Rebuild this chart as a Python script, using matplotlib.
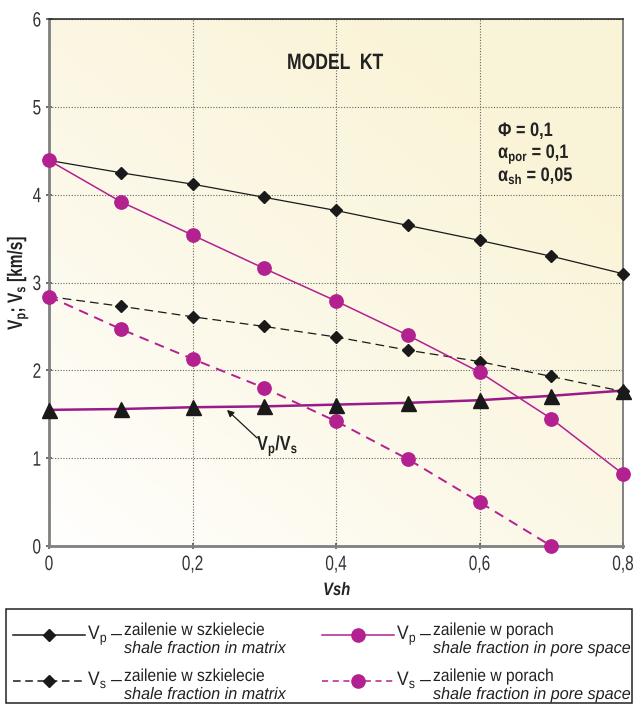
import matplotlib
matplotlib.use("Agg")
import matplotlib.pyplot as plt
from matplotlib.lines import Line2D
from matplotlib.patches import Rectangle
from matplotlib.patheffects import AbstractPathEffect
from matplotlib.transforms import Affine2D
import numpy as np

plt.rcParams['font.family'] = ['Liberation Sans', 'DejaVu Sans']
plt.rcParams['mathtext.fontset'] = 'custom'
plt.rcParams['mathtext.rm'] = 'Liberation Sans'
plt.rcParams['mathtext.it'] = 'Liberation Sans:italic'
plt.rcParams['mathtext.bf'] = 'Liberation Sans:bold'

# --- dane ---
vsh = [0.0, 0.1, 0.2, 0.3, 0.4, 0.5, 0.6, 0.7, 0.8]
vp_matrix = [4.39, 4.25, 4.12, 3.97, 3.82, 3.65, 3.48, 3.30, 3.10]
vs_matrix = [2.84, 2.73, 2.61, 2.50, 2.38, 2.23, 2.10, 1.93, 1.76]
vp_pore = [4.39, 3.92, 3.54, 3.16, 2.79, 2.40, 1.98, 1.45, 0.82]
vsh_vs_pore = [0.0, 0.1, 0.2, 0.3, 0.4, 0.5, 0.6, 0.7]
vs_pore = [2.84, 2.47, 2.13, 1.80, 1.42, 0.99, 0.50, 0.0]
vpvs = [1.55, 1.56, 1.58, 1.59, 1.61, 1.63, 1.66, 1.71, 1.77]

x_ticks = [0, 0.2, 0.4, 0.6, 0.8]
x_ticklabels = ['0', '0,2', '0,4', '0,6', '0,8']
y_ticks = [0, 1, 2, 3, 4, 5, 6]

MAG = '#b3208f'
PURPLE = '#9a1a8a'
BLK = '#1a1a1a'
TXT = '#222222'


class Condensed(AbstractPathEffect):
    """Zwęża glify w poziomie (brak kroju 'condensed' w systemie)."""

    def __init__(self, sx=0.78, anchor='left'):
        super().__init__()
        self.sx = sx
        self.anchor = anchor

    def draw_path(self, renderer, gc, tpath, affine, rgbFace=None):
        ext = tpath.get_extents()
        cx = {'left': 0.0, 'center': (ext.x0 + ext.x1) / 2, 'right': ext.x1}[self.anchor]
        squeeze = Affine2D().translate(-cx, 0).scale(self.sx, 1).translate(cx, 0)
        renderer.draw_path(gc, tpath, squeeze + affine, rgbFace)


def narrow(sx=0.78, anchor='left'):
    return [Condensed(sx, anchor)]


fig = plt.figure(figsize=(6.35, 7.04), dpi=100)
ax = fig.add_axes([0.0772, 0.2244, 0.9039, 0.7486])

# tło: przejście od bieli (lewy dół) do jasnej żółci (prawy góra)
gx, gy = np.meshgrid(np.linspace(0, 1, 200), np.linspace(0, 1, 200))
g = np.clip((gx + 1.2 * gy) / 1.8, 0, 1) ** 0.8
white = np.array([1.0, 1.0, 1.0])
yellow = np.array([0.98, 0.955, 0.845])
bg = white[None, None, :] * (1 - g[..., None]) + yellow[None, None, :] * g[..., None]
ax.imshow(bg, extent=[0, 1, 0, 1], transform=ax.transAxes, origin='lower',
          aspect='auto', zorder=0)

ax.set_xlim(0, 0.8)
ax.set_ylim(0, 6)
ax.set_xticks(x_ticks)
ax.set_xticklabels(x_ticklabels)
ax.set_yticks(y_ticks)
ax.tick_params(labelsize=15, colors='#555555', labelcolor='#333333', length=5,
               width=1.2, direction='inout')
ax.tick_params(axis='x', pad=4)
ax.tick_params(axis='y', pad=3)
for lbl in ax.get_xticklabels():
    lbl.set_path_effects(narrow(0.74, 'center'))
for lbl in ax.get_yticklabels():
    lbl.set_path_effects(narrow(0.74, 'right'))
ax.grid(True, linestyle=(0, (1, 1.5)), color='#666666', linewidth=0.8, zorder=1)

for side in ['left', 'bottom']:
    ax.spines[side].set_color('#808080')
    ax.spines[side].set_linewidth(2)
ax.spines['top'].set_color('#222222')
ax.spines['top'].set_linewidth(1.1)
ax.spines['right'].set_color('#777777')
ax.spines['right'].set_linewidth(1.3)

# serie
ax.plot(vsh, vp_matrix, '-', color=BLK, lw=0.9, marker='D', ms=6.2, zorder=4, clip_on=False)
ax.plot(vsh, vs_matrix, color=BLK, lw=0.9, ls=(0, (7, 4)), marker='D', ms=6.2, zorder=4, clip_on=False)
ax.plot(vsh, vp_pore, '-', color=MAG, lw=1.1, marker='o', ms=9.6, zorder=5, clip_on=False)
ax.plot(vsh_vs_pore, vs_pore, color=MAG, lw=1.4, ls=(0, (5, 3.5)), marker='o', ms=9.6,
        zorder=5, clip_on=False)
ax.plot(vsh, vpvs, '-', color=PURPLE, lw=1.8, zorder=3, clip_on=False)
ax.plot(vsh, vpvs, ls='none', color=BLK, marker='^', ms=10.8, zorder=6, clip_on=False)

ax.set_xlabel('Vsh', fontsize=13, fontweight='bold', fontstyle='italic', va='baseline',
              color=TXT)
ax.xaxis.set_label_coords(0.501, -0.093)
ax.xaxis.label.set_path_effects(narrow(0.82, 'center'))
ax.set_ylabel(r'$\mathbf{V}_{\mathbf{p}}$; $\mathbf{V}_{\mathbf{s}}$ [km/s]', fontsize=15,
              fontweight='bold', va='baseline', color=TXT)
ax.yaxis.set_label_coords(-0.047, 0.5)
ax.yaxis.label.set_path_effects(narrow(0.74, 'center'))

ax.text(0.3317, 5.431, 'MODEL  KT', fontsize=16, fontweight='bold', va='baseline',
        color=TXT, zorder=7, path_effects=narrow(0.79))
params = [r'$\mathbf{\Phi}$ = 0,1',
          r'$\mathbf{\alpha}_{\mathbf{por}}$ = 0,1',
          r'$\mathbf{\alpha}_{\mathbf{sh}}$ = 0,05']
for s, yb in zip(params, [4.668, 4.418, 4.156]):
    ax.text(0.6258, yb, s, fontsize=14, fontweight='bold', va='baseline', color=TXT,
            path_effects=narrow(0.84))

ax.text(0.290, 1.093, r'$\mathbf{V}_{\mathbf{p}}\mathbf{/V}_{\mathbf{s}}$', fontsize=14.5,
        fontweight='bold', va='baseline', color=TXT, zorder=7, path_effects=narrow(0.8))
ax.annotate('', xy=(0.248, 1.55), xytext=(0.290, 1.23),
            arrowprops=dict(arrowstyle='-|>', color=BLK, lw=0.9, mutation_scale=10,
                            shrinkA=0, shrinkB=0), zorder=7)

# legenda rysowana ręcznie w dolnej ramce (współrzędne w pikselach)
lax = fig.add_axes([0, 0, 1, 1], facecolor='none')
lax.set_xlim(0, 635)
lax.set_ylim(704, 0)
lax.axis('off')
lax.add_patch(Rectangle((6, 609), 626, 94, fill=False, edgecolor='#222222', lw=1.1))

entries = [
    (13, 635, BLK, '-', 'D', 6.5, 'p', 'zailenie w szkielecie', 'shale fraction in matrix'),
    (13, 681, BLK, (0, (5, 3)), 'D', 6.5, 's', 'zailenie w szkielecie', 'shale fraction in matrix'),
    (322, 635, MAG, '-', 'o', 9.5, 'p', 'zailenie w porach', 'shale fraction in pore space'),
    (322, 681, MAG, (0, (4, 3)), 'o', 9.5, 's', 'zailenie w porach', 'shale fraction in pore space'),
]
for x0, y0, col, ls, mk, ms, sub, pl, en in entries:
    lax.add_line(Line2D([x0, x0 + 72], [y0, y0], color=col, ls=ls, lw=1.1))
    lax.add_line(Line2D([x0 + 36], [y0], color=col, marker=mk, ms=ms, ls='none'))
    lax.text(x0 + 75, y0 + 4, r'$\mathregular{V_%s}$' % sub, fontsize=14, va='baseline',
             color=TXT, path_effects=narrow(0.9))
    lax.text(x0 + 98, y0 + 4, '–', fontsize=14, va='baseline', color=TXT)
    lax.text(x0 + 111, y0, pl, fontsize=12.5, va='baseline', color=TXT,
             path_effects=narrow(0.9))
    lax.text(x0 + 111, y0 + 18, en, fontsize=12, va='baseline', style='italic', color=TXT,
             path_effects=narrow(0.97))

fig.savefig('out.png', dpi=100)
